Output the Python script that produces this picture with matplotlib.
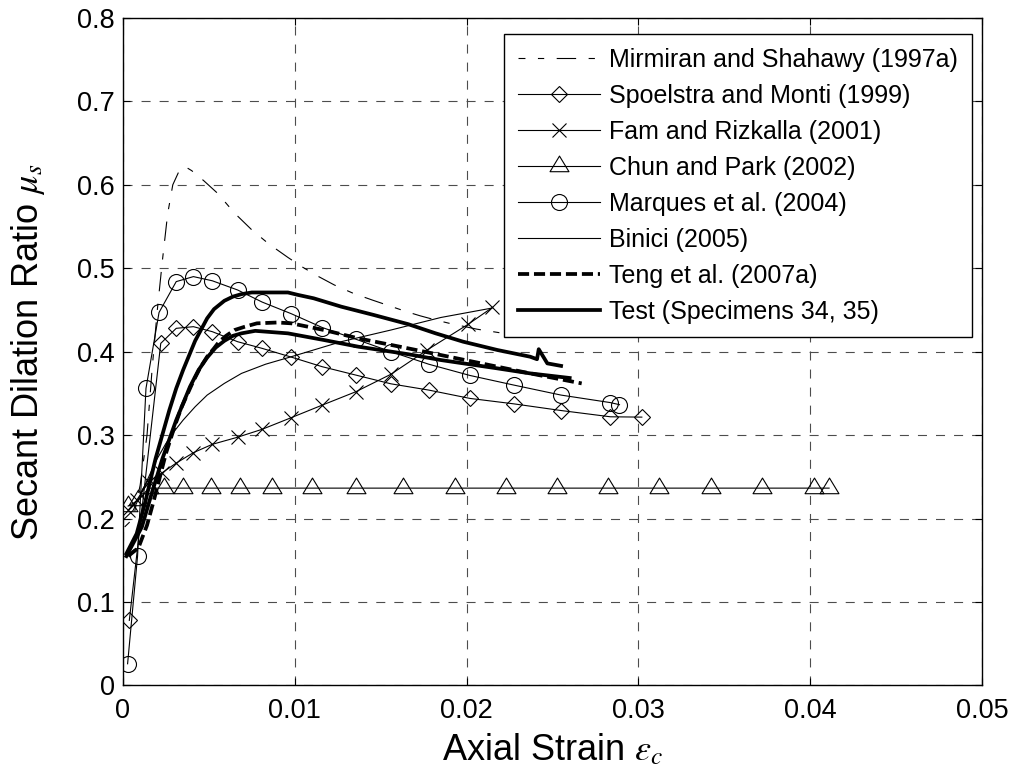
import matplotlib
matplotlib.use('Agg')
import matplotlib.pyplot as plt
from matplotlib.path import Path

plt.rcParams['font.family'] = ['Liberation Sans', 'DejaVu Sans']
plt.rcParams['mathtext.fontset'] = 'stix'
plt.rcParams['lines.scale_dashes'] = False

# ---------------- data ----------------
mir_x = [0.0001, 0.0006, 0.0010, 0.0014, 0.0017, 0.0020, 0.0023, 0.0026, 0.0029, 0.0033,
         0.0036, 0.0040, 0.0047, 0.0055, 0.0065, 0.0075, 0.0085, 0.0096, 0.0104, 0.0113,
         0.0123, 0.0134, 0.0145, 0.0155, 0.0165, 0.0173, 0.0182, 0.0190, 0.0206, 0.0220]
mir_y = [0.190, 0.200, 0.240, 0.300, 0.380, 0.450, 0.510, 0.565, 0.600, 0.618,
         0.622, 0.617, 0.605, 0.590, 0.566, 0.546, 0.529, 0.513, 0.502, 0.491,
         0.480, 0.470, 0.462, 0.455, 0.448, 0.443, 0.438, 0.434, 0.427, 0.4225]

spo_x = [0.00037, 0.0022, 0.0031, 0.0041, 0.0052, 0.00667, 0.0081, 0.0098, 0.0116, 0.01355,
         0.0156, 0.0178, 0.0202, 0.02275, 0.0255, 0.02837, 0.0302]
spo_y = [0.078, 0.410, 0.428, 0.430, 0.424, 0.412, 0.404, 0.3935, 0.382, 0.372,
         0.3615, 0.354, 0.344, 0.3375, 0.3295, 0.322, 0.3216]

fam_x = [0.0003, 0.0008, 0.0015, 0.00225, 0.0031, 0.0041, 0.0052, 0.00667, 0.0081, 0.0098,
         0.0116, 0.01355, 0.0156, 0.0177, 0.0201, 0.0215]
fam_y = [0.210, 0.222, 0.244, 0.2545, 0.2665, 0.279, 0.289, 0.2975, 0.307, 0.321,
         0.336, 0.352, 0.373, 0.402, 0.433, 0.453]

chun_x = [0.0003, 0.0009, 0.0015, 0.0024, 0.0035, 0.0051, 0.0068, 0.0087, 0.0110, 0.01355,
          0.0163, 0.0193, 0.02227, 0.02527, 0.02824, 0.03118, 0.0342, 0.0372, 0.0402, 0.0411]
chun_y = [0.215, 0.222, 0.2365, 0.2365, 0.2365, 0.2365, 0.2365, 0.2365, 0.2365, 0.2365,
          0.2365, 0.2365, 0.2365, 0.2365, 0.2365, 0.2365, 0.2365, 0.2365, 0.2365, 0.2365]

mar_x = [0.00027, 0.00085, 0.00134, 0.0021, 0.0031, 0.0041, 0.0052, 0.00667, 0.0081, 0.0098,
         0.0116, 0.01355, 0.0156, 0.0178, 0.0202, 0.02275, 0.0255, 0.02837, 0.0289]
mar_y = [0.026, 0.155, 0.356, 0.447, 0.484, 0.490, 0.485, 0.474, 0.4595, 0.4455,
         0.429, 0.415, 0.400, 0.385, 0.3715, 0.360, 0.348, 0.339, 0.3365]

bin_x = [0.0001, 0.0006, 0.0011, 0.0015, 0.0020, 0.0025, 0.0030, 0.0035, 0.0042, 0.0049,
         0.0059, 0.0069, 0.0083, 0.0098, 0.0127, 0.0156, 0.0185, 0.0214]
bin_y = [0.200, 0.210, 0.232, 0.250, 0.272, 0.290, 0.305, 0.318, 0.334, 0.348,
         0.362, 0.374, 0.385, 0.394, 0.412, 0.426, 0.441, 0.452]

teng_x = [0.0003, 0.0009, 0.0014, 0.0018, 0.0025, 0.0030, 0.0034, 0.0041, 0.0045, 0.0049,
          0.0053, 0.0056, 0.0060, 0.0065, 0.0071, 0.0078, 0.0090, 0.0098, 0.0117, 0.0137,
          0.0166, 0.0185, 0.0218, 0.0237, 0.0267]
teng_y = [0.155, 0.165, 0.192, 0.222, 0.278, 0.310, 0.333, 0.365, 0.381, 0.394,
          0.404, 0.412, 0.419, 0.426, 0.430, 0.434, 0.435, 0.434, 0.426, 0.416,
          0.404, 0.396, 0.382, 0.374, 0.362]

test1_x = [0.0002, 0.0008, 0.0013, 0.0019, 0.0027, 0.0031, 0.0035, 0.0042, 0.0049, 0.0053,
           0.0059, 0.0064, 0.0069, 0.0075, 0.0085, 0.0096, 0.0102, 0.0111, 0.0127, 0.0146,
           0.0166, 0.0182, 0.0198, 0.0218, 0.0237, 0.0241, 0.0242, 0.0247, 0.0255]
test1_y = [0.158, 0.182, 0.220, 0.272, 0.330, 0.356, 0.378, 0.413, 0.440, 0.451,
           0.461, 0.466, 0.469, 0.471, 0.471, 0.471, 0.468, 0.464, 0.454, 0.444,
           0.433, 0.422, 0.412, 0.402, 0.394, 0.391, 0.403, 0.386, 0.383]

test2_x = [0.0002, 0.0011, 0.0017, 0.0023, 0.0031, 0.0039, 0.0044, 0.0049, 0.0054, 0.0059,
           0.0064, 0.0069, 0.0077, 0.0096, 0.0117, 0.0137, 0.0166, 0.0185, 0.0218, 0.0237,
           0.0260]
test2_y = [0.155, 0.190, 0.232, 0.272, 0.318, 0.358, 0.378, 0.393, 0.405, 0.413,
           0.419, 0.422, 0.425, 0.422, 0.414, 0.406, 0.397, 0.390, 0.380, 0.374,
           0.3685]

labels = ['Mirmiran and Shahawy (1997a)', 'Spoelstra and Monti (1999)',
          'Fam and Rizkalla (2001)', 'Chun and Park (2002)', 'Marques et al. (2004)',
          'Binici (2005)', 'Teng et al. (2007a)', 'Test (Specimens 34, 35)']

xticks = [0, 0.01, 0.02, 0.03, 0.04, 0.05]
xticklabels = ['0', '0.01', '0.02', '0.03', '0.04', '0.05']
yticks = [0, 0.1, 0.2, 0.3, 0.4, 0.5, 0.6, 0.7, 0.8]
yticklabels = ['0', '0.1', '0.2', '0.3', '0.4', '0.5', '0.6', '0.7', '0.8']

# ---------------- figure ----------------
fig = plt.figure(figsize=(10.17, 7.8), dpi=100)
ax = fig.add_axes([0.1209, 0.1212, 0.8447, 0.8558])

thin = 0.8
thick = 2.7
tri = Path([(-1, -0.55), (1, -0.55), (0, 1.1), (-1, -0.55)],
           [Path.MOVETO, Path.LINETO, Path.LINETO, Path.CLOSEPOLY])

ax.plot(mir_x, mir_y, color='k', lw=thin, linestyle=(9, (14, 9, 4.5, 9)),
        label=labels[0], zorder=3)
ax.plot(spo_x, spo_y, color='k', lw=thin, marker='D', ms=7.8, mfc='none', mec='k', mew=thin,
        label=labels[1], zorder=3)
ax.plot(fam_x, fam_y, color='k', lw=thin, marker='x', ms=9.5, mec='k', mew=thin,
        label=labels[2], zorder=3)
ax.plot(chun_x, chun_y, color='k', lw=thin, marker=tri, ms=15, mfc='none', mec='k', mew=thin,
        label=labels[3], zorder=3)
ax.plot(mar_x, mar_y, color='k', lw=thin, marker='o', ms=11.5, mfc='none', mec='k', mew=thin,
        label=labels[4], zorder=3)
ax.plot(bin_x, bin_y, color='k', lw=thin, label=labels[5], zorder=3)
ax.plot(teng_x, teng_y, color='k', lw=thick, dashes=(8, 3.5), label=labels[6], zorder=4)
ax.plot(test1_x, test1_y, color='k', lw=thick, label=labels[7], zorder=4)
ax.plot(test2_x, test2_y, color='k', lw=thick, label='_nolegend_', zorder=4)

ax.set_xlim(0, 0.05)
ax.set_ylim(0, 0.8)
ax.set_xticks(xticks)
ax.set_xticklabels(xticklabels)
ax.set_yticks(yticks)
ax.set_yticklabels(yticklabels)
ax.tick_params(direction='in', length=5, width=0.8, top=True, right=True,
               labelsize=19.5, colors='k')
ax.tick_params(axis='x', pad=9)
ax.tick_params(axis='y', pad=6)
for s in ax.spines.values():
    s.set_linewidth(1.0)
    s.set_color('k')

ax.grid(True, color='0.3', lw=0.8, dashes=(6.5, 6.5))
ax.set_axisbelow(True)

ax.set_xlabel(r'Axial Strain $\varepsilon_c$', fontsize=26)
ax.set_ylabel(r'Secant Dilation Ratio $\mu_s$', fontsize=26)
ax.xaxis.set_label_coords(0.5, -0.07)
ax.yaxis.set_label_coords(-0.088, 0.5)

leg = ax.legend(loc='upper right', bbox_to_anchor=(0.988, 0.976), borderaxespad=0,
                fontsize=18, handlelength=3.3, handletextpad=0.35, borderpad=0.55,
                labelspacing=0.48, fancybox=False, framealpha=1, edgecolor='k')
leg.get_frame().set_linewidth(1.0)
leg.set_zorder(10)

fig.savefig('out.png', dpi=100)
